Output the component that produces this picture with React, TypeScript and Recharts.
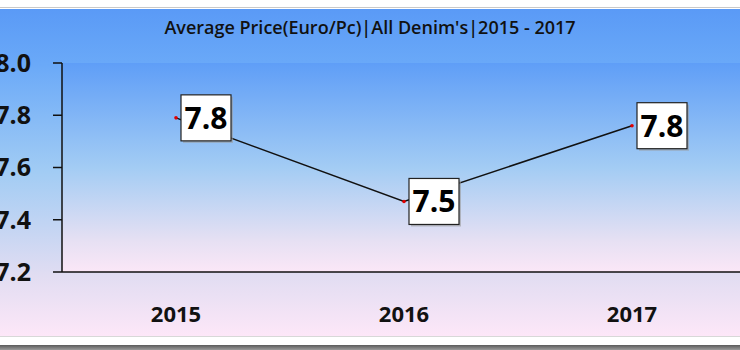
// Average price line chart, cropped Excel look
import { LineChart, Line, XAxis, YAxis, CartesianGrid, LabelList } from "recharts"

const years = ["2015", "2016", "2017"]
const avgPrice = [7.79, 7.47, 7.76]
const yTicks = [7.2, 7.4, 7.6, 7.8, 8.0]

const FONT = "'Open Sans', 'DejaVu Sans', sans-serif"

const data = years.map((y, i) => ({ year: y, price: avgPrice[i] }))

// white boxed value label to the right of the point
function BoxLabel(props: any) {
  const { x, y, value } = props
  const w = 50
  const h = 46
  const bx = x + 5
  const by = y - h / 2
  return (
    <g>
      <rect x={bx + 2} y={by + 2} width={w} height={h} fill="#9a9a9a" opacity={0.6} />
      <rect x={bx} y={by} width={w} height={h} fill="#ffffff" stroke="#222" strokeWidth={1.2} />
      <text
        x={bx + w / 2}
        y={y + 11}
        textAnchor="middle"
        fontFamily={FONT}
        fontWeight={700}
        fontSize={30}
        fill="#000"
      >
        {Number(value).toFixed(1)}
      </text>
    </g>
  )
}

function Dot(props: any) {
  const { cx, cy } = props
  return <circle cx={cx} cy={cy} r={1.8} fill="#e00000" />
}

export default function App() {
  return (
    <div style={{ position: "fixed", left: 0, top: 0, width: 740, height: 350, overflow: "hidden", background: "#fff" }}>
      {/* top frame line */}
      <div style={{ position: "absolute", left: 0, top: 7, width: 740, height: 1, background: "#c9c9c9" }} />
      {/* chart area background */}
      <div
        style={{
          position: "absolute",
          left: 0,
          top: 9,
          width: 740,
          height: 327,
          background:
            "linear-gradient(to bottom, #5a9af6 0%, #6aa9f8 17%, #a2ccf4 50%, #e2ddf2 82%, #fde7f8 100%)",
        }}
      />
      <div style={{ position: "absolute", left: 0, top: 336, width: 740, height: 1, background: "#d8d8d8" }} />
      <div
        style={{
          position: "absolute",
          left: 0,
          top: 345,
          width: 740,
          height: 5,
          background: "linear-gradient(to bottom, #5a5a5a, #9a9a9a)",
        }}
      />

      {/* title */}
      <div
        style={{
          position: "absolute",
          left: 0,
          top: 15,
          width: 740,
          textAlign: "center",
          fontFamily: FONT,
          fontWeight: 600,
          fontSize: 18,
          color: "#111",
        }}
      >
        Average Price(Euro/Pc)|All Denim's|2015 - 2017
      </div>

      <div style={{ position: "absolute", left: 0, top: 0 }}>
        <LineChart width={760} height={350} data={data} margin={{ top: 63, right: 14, left: 0, bottom: 28 }}>
          <defs>
            <linearGradient id="plotBg" x1="0" y1="0" x2="0" y2="1">
              <stop offset="0%" stopColor="#5f9ef7" />
              <stop offset="50%" stopColor="#a3ccf4" />
              <stop offset="85%" stopColor="#e6e0f3" />
              <stop offset="100%" stopColor="#fbe7f7" />
            </linearGradient>
          </defs>
          <CartesianGrid horizontal={false} vertical={false} fill="url(#plotBg)" stroke="none" />
          <XAxis
            dataKey="year"
            scale="band"
            height={50}
            tickSize={0}
            tickMargin={34}
            axisLine={{ stroke: "#111", strokeWidth: 1.5 }}
            tickLine={false}
            tick={{ fontFamily: FONT, fontWeight: 700, fontSize: 22, fill: "#111" }}
            interval={0}
          />
          <YAxis
            width={62}
            domain={[7.2, 8.0]}
            ticks={yTicks}
            tickFormatter={(v: number) => v.toFixed(1)}
            tickSize={9}
            tickMargin={22}
            axisLine={{ stroke: "#111", strokeWidth: 1.5 }}
            tickLine={{ stroke: "#111", strokeWidth: 1.5 }}
            tick={{ fontFamily: FONT, fontWeight: 700, fontSize: 25, fill: "#111" }}
            interval={0}
          />
          <Line
            type="linear"
            dataKey="price"
            stroke="#111"
            strokeWidth={1.5}
            dot={<Dot />}
            activeDot={false}
            isAnimationActive={false}
          >
            <LabelList dataKey="price" content={<BoxLabel />} />
          </Line>
        </LineChart>
      </div>
    </div>
  )
}
